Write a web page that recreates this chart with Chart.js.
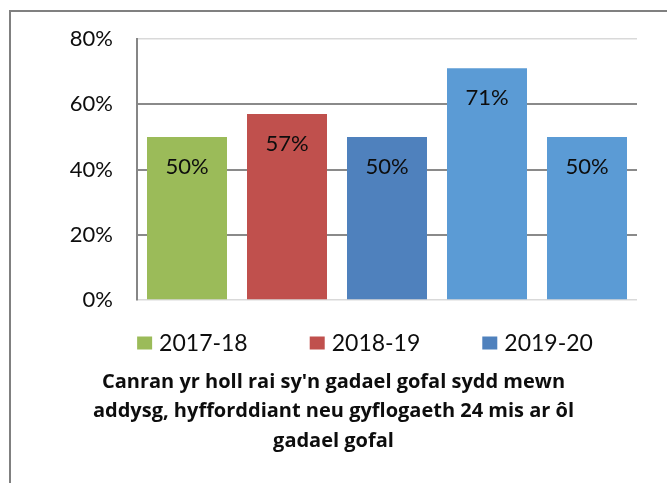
<!DOCTYPE html>
<html>
<head>
<meta charset="utf-8">
<script src="https://cdn.jsdelivr.net/npm/chart.js@4/dist/chart.umd.min.js"></script>
<style>
  html, body { margin: 0; padding: 0; background: #fff; }
  #wrap { position: relative; width: 667px; height: 483px; overflow: hidden; }
  #frame { position: absolute; left: 9px; top: 10px; width: 700px; height: 520px;
           border-left: 2px solid #808080; border-top: 2px solid #808080; box-sizing: border-box; }
  canvas { position: absolute; left: 0; top: 0; }
</style>
</head>
<body>
<div id="wrap">
  <div id="frame"></div>
  <canvas id="c" width="667" height="483"></canvas>
</div>
<script>
const categories = ['2017-18', '2018-19', '2019-20', '2020-21', '2021-22'];
const values = [50, 57, 50, 71, 50];
const barColors = ['#9BBB59', '#C0504D', '#4F81BD', '#5B9BD5', '#5B9BD5'];
const legendLabels = ['2017-18', '2018-19', '2019-20'];
const legendColors = ['#9BBB59', '#C0504D', '#4F81BD'];
const yTicks = [0, 20, 40, 60, 80];
const titleLines = [
  "Canran yr holl rai sy'n gadael gofal sydd mewn",
  "addysg, hyfforddiant neu gyflogaeth 24 mis ar ôl",
  "gadael gofal"
];

const FONT = 'Lato, "Open Sans", sans-serif';
const TITLE_FONT = '"Open Sans", Lato, sans-serif';

const labelPlugin = {
  id: 'barLabels',
  afterDatasetsDraw(chart) {
    const ctx = chart.ctx;
    const meta = chart.getDatasetMeta(0);
    ctx.save();
    ctx.font = '22px ' + FONT;
    ctx.fillStyle = '#0d0d0d';
    ctx.textAlign = 'center';
    ctx.textBaseline = 'middle';
    meta.data.forEach((bar, i) => {
      ctx.fillText(values[i] + '%', bar.x, bar.y + 30);
    });
    ctx.restore();
  }
};

const legendTitlePlugin = {
  id: 'legendTitle',
  afterDraw(chart) {
    const ctx = chart.ctx;
    const area = chart.chartArea;
    ctx.save();
    // legend
    ctx.font = '23px ' + FONT;
    ctx.textBaseline = 'middle';
    ctx.textAlign = 'left';
    const boxW = 15, boxH = 13, textGap = 7, itemGap = 62;
    const widths = legendLabels.map(t => boxW + textGap + ctx.measureText(t).width);
    const total = widths.reduce((a, b) => a + b, 0) + itemGap * (widths.length - 1);
    let x = area.left + 228 - total / 2;
    const ly = area.bottom + 43;
    legendLabels.forEach((t, i) => {
      ctx.fillStyle = legendColors[i];
      ctx.fillRect(x, ly - boxH / 2, boxW, boxH);
      ctx.fillStyle = '#0d0d0d';
      ctx.fillText(t, x + boxW + textGap, ly + 1);
      x += widths[i] + itemGap;
    });
    // title
    ctx.font = 'bold 20px ' + TITLE_FONT;
    ctx.textAlign = 'center';
    ctx.fillStyle = '#0d0d0d';
    const cx = chart.width / 2;
    titleLines.forEach((t, i) => {
      ctx.fillText(t, cx, area.bottom + 82 + i * 29.5);
    });
    ctx.restore();
  }
};

new Chart(document.getElementById('c'), {
  type: 'bar',
  data: {
    labels: categories,
    datasets: [{
      data: values,
      backgroundColor: barColors,
      borderWidth: 0,
      barPercentage: 0.8,
      categoryPercentage: 1.0
    }]
  },
  options: {
    responsive: false,
    animation: false,
    devicePixelRatio: 1,
    layout: { padding: { top: 39, right: 30, bottom: 183, left: 0 } },
    plugins: {
      legend: { display: false },
      title: { display: false },
      tooltip: { enabled: false }
    },
    scales: {
      x: { display: false },
      y: {
        min: 0, max: 80,
        afterBuildTicks(scale) { scale.ticks = yTicks.map(v => ({ value: v })); },
        afterFit(scale) { scale.width = 137; },
        ticks: {
          callback: v => v + '%',
          font: { family: FONT, size: 22 },
          color: '#0d0d0d',
          padding: 24
        },
        grid: {
          drawTicks: false,
          color: c => (c.tick && (c.tick.value === 0 || c.tick.value === 80)) ? '#d9d9d9' : '#8a8a8a',
          lineWidth: c => (c.tick && (c.tick.value === 0 || c.tick.value === 80)) ? 1.5 : 2
        },
        border: { display: true, color: '#868686', width: 2 }
      }
    }
  },
  plugins: [labelPlugin, legendTitlePlugin]
});
</script>
</body>
</html>
